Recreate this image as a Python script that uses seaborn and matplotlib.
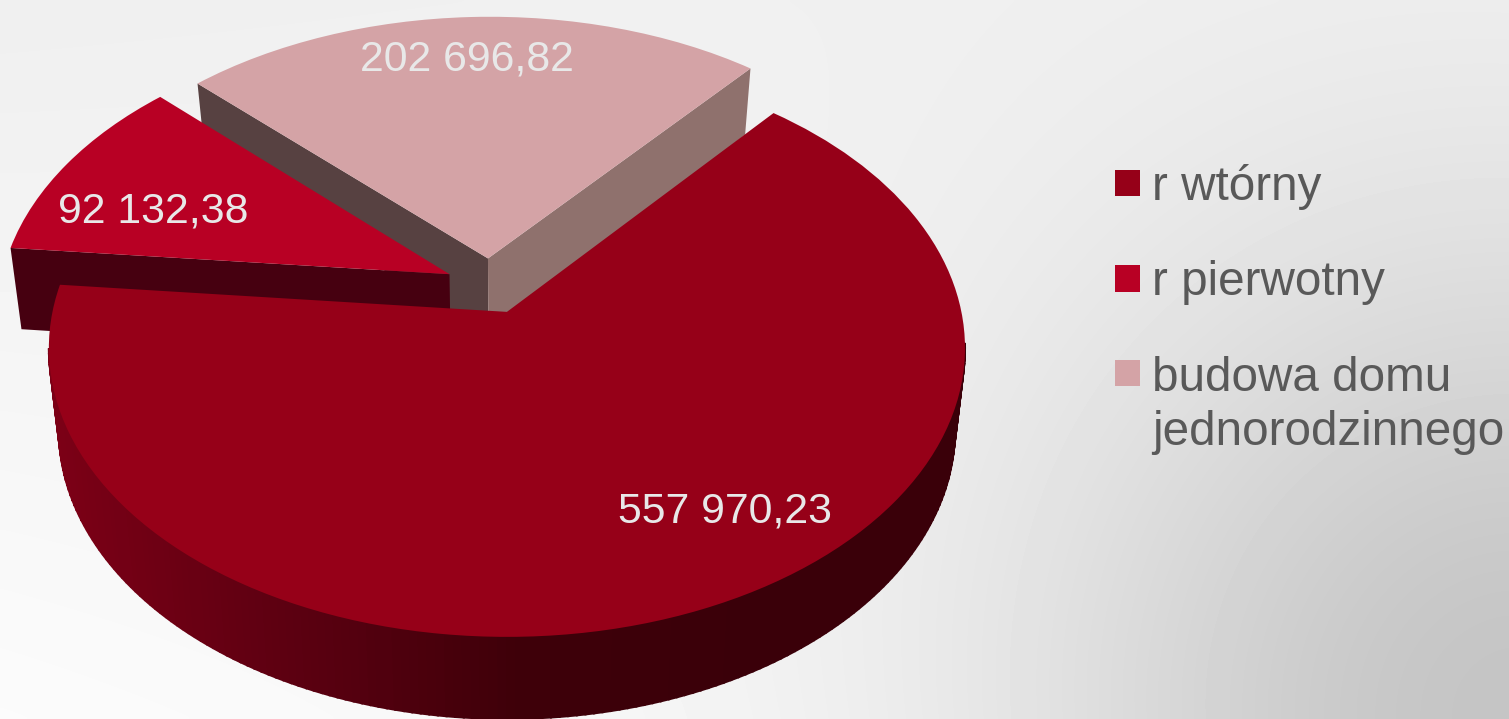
import numpy as np
import seaborn as sns
import matplotlib.pyplot as plt
from matplotlib.transforms import Transform

categories = ['r wtórny', 'r pierwotny', 'budowa domu\njednorodzinnego']
values = [557970.23, 92132.38, 202696.82]
top_colors = ['#960018', '#b80024', '#d4a3a6']
face_colors = [None, '#460010', '#574141']  # radial wall on the front side
right_wall = '#8f716d'
label_pos = [(725, 511), (153, 211), (467, 60)]

W, H = 1509, 719
# perspective fitted on the picture
TIP_X, TIP_Y, A, B, K = 507, 312, 454.5, 284.4, 0.125


class PieView(Transform):
    input_dims = 2
    output_dims = 2
    is_separable = False
    has_inverse = False

    def transform_non_affine(self, xy):
        xy = np.asarray(xy, dtype=float)
        w = 1 + K * xy[:, 1]
        return np.column_stack([TIP_X + A * xy[:, 0] / w, TIP_Y - B * xy[:, 1] / w])


view = PieView()


def lower(xy):
    # same plane points on the underside of the pie
    px = view.transform(xy)
    h = np.interp(xy[:, 1], [0.2, 0.9], [82, 66])
    return np.column_stack([TIP_X + (px[:, 0] - TIP_X) * 0.978, px[:, 1] + h])


def arc_points(wedge, n=240):
    t = np.radians(np.linspace(wedge.theta1, wedge.theta2, n))
    return np.column_stack([wedge.center[0] + wedge.r * np.cos(t),
                            wedge.center[1] + wedge.r * np.sin(t)])


def wall(ax, a, b, color, z, lw=0.0):
    # a, b are two plane points, the wall hangs below them
    pts = np.array([a, b])
    top = view.transform(pts)
    bot = lower(pts)
    ax.fill([top[0, 0], top[1, 0], bot[1, 0], bot[0, 0]],
            [top[0, 1], top[1, 1], bot[1, 1], bot[0, 1]],
            color=color, lw=lw, zorder=z)


def polish(v):
    return f'{v:,.2f}'.replace(',', ' ').replace('.', ',')


sns.set_theme(style='white')
plt.rcParams['font.family'] = ['Liberation Sans', 'DejaVu Sans']

fig = plt.figure(figsize=(W / 100, H / 100), dpi=100)
ax = fig.add_axes([0, 0, 1, 1])

wedges, _ = ax.pie(values, colors=top_colors, startangle=50, counterclock=False,
                   explode=[0.1, 0.1, 0.1], center=(-0.038, 0.093), radius=1)
ax.set_aspect('auto')
ax.set_xlim(0, W)
ax.set_ylim(H, 0)
ax.set_axis_on()
ax.set_xticks([])
ax.set_yticks([])
for s in ax.spines.values():
    s.set_visible(False)

# background
yy, xx = np.mgrid[0:H:180j, 0:W:360j]
dist = np.hypot(W - xx, H - yy)
bg = 0.95 - 0.18 * np.exp(-(dist / 500) ** 2)
bg = bg + 0.035 * (yy / H) * (1 - xx / W) - 0.012 * (1 - yy / H) * (1 - xx / W)
ax.imshow(bg, cmap='gray', vmin=0, vmax=1, extent=(0, W, H, 0), aspect='auto',
          interpolation='bicubic', zorder=0)

wall_pal = sns.blend_palette(['#7c0016', '#5c0011', '#3e0009', '#3a0009'], 200)

# far slices first, main slice on top
for i, z in zip([2, 1, 0], [1, 4, 7]):
    w = wedges[i]
    w.set_transform(view + ax.transData)
    w.set_zorder(z + 2)
    w.set_edgecolor('none')
    pts = arc_points(w)
    if i == 0:
        # only the front of the rim shows
        for a, b in zip(pts[:-1], pts[1:]):
            if a[1] - w.center[1] > -0.12:
                continue
            px = view.transform(np.array([a]))[0, 0]
            c = wall_pal[int(np.clip((px - 50) / 700, 0, 1) * 199)]
            wall(ax, a, b, c, z, lw=1.5)
    if face_colors[i] is not None:
        wall(ax, w.center, pts[-1], face_colors[i], z + 1)
    if i == 2:
        wall(ax, w.center, pts[0], right_wall, z + 1)

for v, pos in zip(values, label_pos):
    ax.text(pos[0], pos[1], polish(v), color='#e8e8e8', fontsize=30.8,
            ha='center', va='center', zorder=20)

leg = ax.legend(wedges, categories, loc='upper left', bbox_to_anchor=(1115 / W, 1 - 164 / H),
                frameon=False, fontsize=34.3, labelcolor='#595959', handlelength=0.53,
                handleheight=0.48, handletextpad=0.25, labelspacing=1.06,
                borderpad=0, borderaxespad=0)
leg.set_zorder(30)
for t in leg.get_texts():
    t.set_linespacing(1.27)
# square of the two line entry sits on the first line
box = leg.legend_handles[2]
box.set_y(box.get_y() + 24)

fig.savefig('out.png', dpi=100)
